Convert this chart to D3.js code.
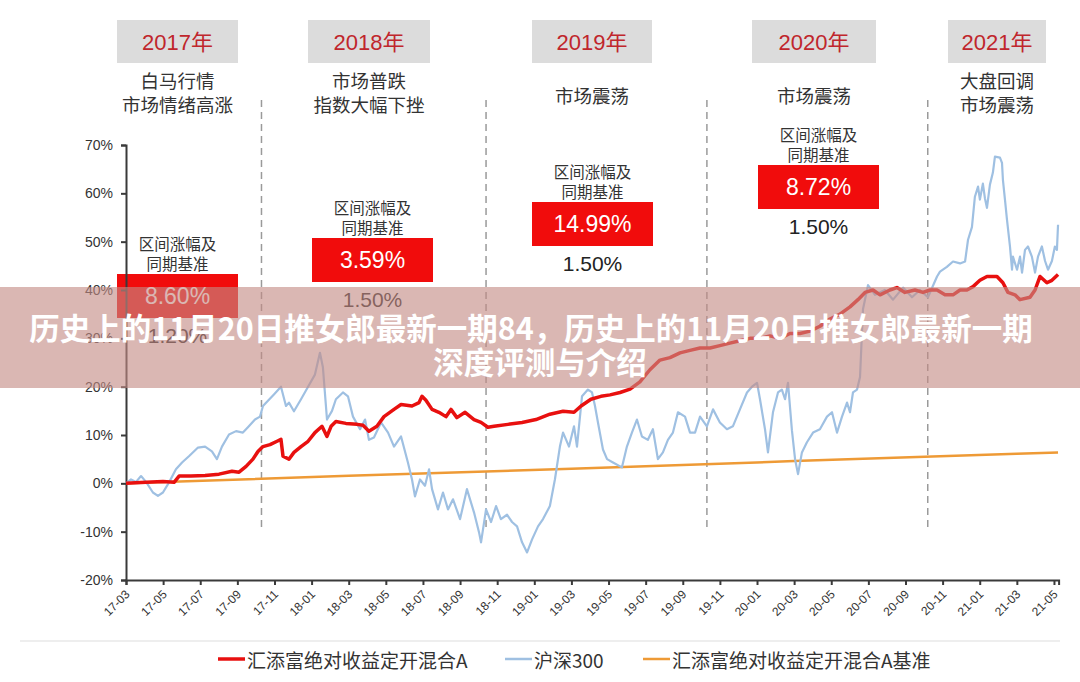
<!DOCTYPE html>
<html><head><meta charset="utf-8">
<script src="https://cdn.jsdelivr.net/npm/d3@7"></script>
<style>
html,body{margin:0;padding:0;background:#fff;}
svg{display:block;}
text{font-family:"Liberation Sans","Noto Sans CJK SC",sans-serif;}
.cjk{font-family:"Noto Sans CJK SC","Liberation Sans",sans-serif;}
</style></head>
<body>
<svg id="chart" width="1080" height="682"></svg>
<script>
// ---------------- data ----------------
const tickLabels = ["17-03","17-05","17-07","17-09","17-11","18-01","18-03","18-05","18-07","18-09","18-11","19-01","19-03","19-05","19-07","19-09","19-11","20-01","20-03","20-05","20-07","20-09","20-11","21-01","21-03","21-05"];
const yTicks = [-20,-10,0,10,20,30,40,50,60,70];
// time in months since 2017-03, value in %
const fundSeries = [[0,0],[1.08,0.2],[1.99,0.4],[2.59,0.2],[2.86,1.5],[3.5,1.5],[4.26,1.6],[5.01,1.9],[5.71,2.5],[6.09,2.3],[6.47,3.5],[6.84,5.0],[7.11,6.6],[7.38,7.6],[7.76,8.0],[8.14,8.7],[8.35,9.1],[8.46,5.6],[8.78,5.0],[9.05,6.4],[9.43,7.6],[9.81,8.7],[10.18,10.5],[10.56,11.8],[10.83,9.7],[11.05,11.8],[11.31,12.8],[11.85,12.4],[12.45,12.2],[12.77,12.0],[13.09,10.8],[13.52,11.8],[13.9,13.8],[14.44,15.3],[14.82,16.3],[15.41,16.0],[15.79,16.7],[15.95,18.0],[16.16,17.2],[16.49,15.3],[16.86,14.7],[17.24,13.8],[17.51,15.3],[17.83,13.6],[18.27,14.7],[18.75,13.2],[19.13,12.6],[19.5,11.6],[19.83,11.8],[20.58,12.2],[21.34,12.6],[22.09,13.2],[22.84,14.3],[23.55,14.9],[24.14,14.7],[24.52,16.0],[25.05,17.4],[25.59,18.0],[26.08,18.3],[26.62,18.8],[27.16,19.5],[27.69,21.0],[28.23,23.5],[28.77,25.5],[29.31,26.0],[29.85,27.0],[30.39,27.5],[30.93,28.0],[31.47,28.0],[32.0,28.5],[32.54,29.0],[33.08,29.5],[33.62,30.0],[34.16,30.0],[34.7,30.5],[35.24,30.0],[35.78,31.0],[36.31,31.0],[36.85,31.5],[37.39,32.5],[37.93,34.0],[38.47,35.0],[39.01,36.5],[39.44,38.0],[39.82,39.5],[40.25,40.0],[40.63,39.0],[41.16,40.0],[41.54,40.5],[41.97,39.5],[42.51,40.0],[42.94,39.5],[43.32,40.0],[43.7,40.0],[44.13,39.0],[44.56,39.0],[44.94,40.0],[45.31,40.0],[45.64,40.7],[46.01,42.0],[46.39,42.8],[46.93,42.8],[47.25,41.5],[47.52,39.5],[47.9,39.0],[48.17,38.0],[48.71,38.5],[48.98,40.0],[49.25,42.8],[49.62,41.5],[49.89,42.0],[50.22,43.2]];
const hs300Series = [[0,0],[0.27,0.8],[0.54,0.3],[0.81,1.5],[1.08,0.3],[1.45,-1.9],[1.72,-2.6],[1.99,-1.9],[2.32,0.2],[2.69,2.9],[3.02,4.3],[3.39,5.6],[3.88,7.4],[4.26,7.6],[4.63,6.6],[4.9,5.0],[5.17,7.6],[5.55,10.1],[5.93,10.8],[6.3,10.5],[6.57,11.6],[6.95,13.2],[7.22,13.8],[7.38,16.0],[7.97,18.4],[8.35,20.0],[8.62,16.0],[8.78,16.7],[9.05,14.9],[9.43,17.4],[9.81,20.0],[10.18,22.5],[10.45,27.0],[10.61,24.0],[10.83,13.2],[11.1,15.0],[11.31,17.4],[11.69,18.8],[11.96,18.0],[12.23,13.8],[12.61,11.2],[12.88,13.2],[13.09,9.0],[13.36,9.5],[13.74,12.6],[14.12,10.5],[14.44,7.6],[14.82,9.7],[15.19,4.3],[15.41,0.8],[15.57,-2.7],[15.84,0.8],[16.11,-0.5],[16.33,2.9],[16.49,-1.2],[16.81,-5.4],[17.08,-1.9],[17.35,-5.4],[17.62,-3.3],[18.0,-7.4],[18.37,-1.2],[18.75,-6.0],[19.02,-10.1],[19.13,-12.2],[19.4,-5.4],[19.67,-8.0],[19.94,-4.7],[20.2,-7.4],[20.53,-6.5],[20.8,-8.0],[21.07,-8.9],[21.34,-12.2],[21.61,-14.3],[21.88,-11.6],[22.2,-8.9],[22.47,-7.4],[22.84,-4.7],[23.11,0.8],[23.38,7.6],[23.55,10.5],[23.87,7.6],[24.14,11.8],[24.3,7.6],[24.57,18.0],[24.89,19.4],[25.11,18.8],[25.27,16.0],[25.43,12.6],[25.7,7.0],[25.92,5.0],[26.24,4.3],[26.72,3.3],[26.99,7.6],[27.26,10.5],[27.53,13.2],[27.8,9.7],[28.12,9.0],[28.39,11.2],[28.66,5.0],[28.93,6.4],[29.2,9.0],[29.47,10.5],[29.74,14.7],[30.12,13.8],[30.39,10.5],[30.66,10.5],[30.93,13.8],[31.3,11.8],[31.63,15.3],[32.0,12.6],[32.38,11.2],[32.7,11.8],[33.08,15.3],[33.46,18.8],[33.73,20.0],[34.0,20.8],[34.16,17.4],[34.43,11.2],[34.59,6.4],[34.86,14.7],[35.13,18.8],[35.34,19.4],[35.51,17.4],[35.67,20.8],[35.88,11.0],[36.05,5.0],[36.21,1.9],[36.42,6.4],[36.69,8.5],[37.02,10.5],[37.39,11.2],[37.77,13.8],[38.04,14.7],[38.31,10.5],[38.58,13.8],[38.85,16.7],[39.01,14.7],[39.17,18.8],[39.39,19.4],[39.55,22.0],[39.71,36.0],[39.98,41.0],[40.36,39.0],[40.89,40.0],[41.33,38.0],[41.87,40.5],[42.35,38.5],[42.78,40.0],[43.21,38.5],[43.7,42.8],[43.86,43.8],[44.23,44.8],[44.56,45.9],[44.94,45.5],[45.21,45.9],[45.37,50.4],[45.58,53.0],[45.74,59.3],[45.91,61.4],[46.01,58.7],[46.17,62.0],[46.28,59.0],[46.39,57.0],[46.55,61.8],[46.71,64.3],[46.82,67.6],[47.09,67.4],[47.2,66.3],[47.25,62.8],[47.36,58.7],[47.47,54.5],[47.63,49.0],[47.74,44.2],[47.79,46.9],[48.01,44.2],[48.17,46.9],[48.28,43.6],[48.44,48.3],[48.6,49.0],[48.81,46.9],[48.98,43.6],[49.14,46.9],[49.35,49.0],[49.52,46.0],[49.68,44.2],[49.89,46.0],[50.05,49.0],[50.16,48.3],[50.22,53.5]];
const benchSeries = [[0,0],[12,1.55],[24,3.0],[36,4.6],[48,6.1],[50.22,6.4]];
const dividers = [7.3, 19.4, 31.3, 43.2];
const years = ["2017年","2018年","2019年","2020年","2021年"];
const phases = [["白马行情","市场情绪高涨"],["市场普跌","指数大幅下挫"],["市场震荡"],["市场震荡"],["大盘回调","市场震荡"]];
const gains = ["8.60%","3.59%","14.99%","8.72%"];
const baseGains = ["1.20%","1.50%","1.50%","1.50%"];
const legendNames = ["汇添富绝对收益定开混合A","沪深300","汇添富绝对收益定开混合A基准"];
const seriesColors = ["#e8100f","#9fc0e2","#ee9a36"];
const bannerLines = ["历史上的11月20日推女郎最新一期84，历史上的11月20日推女郎最新一期","深度评测与介绍"];

// ---------------- layout ----------------
const svg = d3.select("#chart");
const x = d3.scaleLinear().domain([0, 50.25]).range([126, 1058.6]);
const y = d3.scaleLinear().domain([-20, 70]).range([580, 145]);

svg.append("rect").attr("width",1080).attr("height",682).attr("fill","#fff");

// dividers
svg.append("g").selectAll("line").data(dividers).join("line")
  .attr("x1", d=>x(d)).attr("x2", d=>x(d)).attr("y1",100).attr("y2",532)
  .attr("stroke","#9a9a9a").attr("stroke-width",1.5).attr("stroke-dasharray","7,5");

// header boxes
const headBoxes = [[117,238],[308,430],[532,652],[752,876],[948,1046]];
const hg = svg.append("g");
hg.selectAll("rect").data(headBoxes).join("rect")
  .attr("x", d=>d[0]).attr("y",20).attr("width", d=>d[1]-d[0]).attr("height",43).attr("fill","#dcdcdc");
hg.selectAll("text.yr").data(years).join("text").attr("class","yr")
  .attr("x", (d,i)=>(headBoxes[i][0]+headBoxes[i][1])/2).attr("y",42)
  .attr("text-anchor","middle").attr("dominant-baseline","central")
  .attr("font-size",22).attr("fill","#c0262c").text(d=>d);
phases.forEach((p,i)=>{
  const cx = (headBoxes[i][0]+headBoxes[i][1])/2;
  const ys = p.length===2 ? [80,104] : [95];
  p.forEach((t,j)=>{
    hg.append("text").attr("class","cjk").attr("x",cx).attr("y",ys[j])
      .attr("text-anchor","middle").attr("dominant-baseline","central")
      .attr("font-size",18.5).attr("fill","#333").text(t);
  });
});

// annotation boxes
const annBoxes = [[117,238,274],[312,433,238],[532,653,202],[758,879,165]];
const ag = svg.append("g");
annBoxes.forEach((b,i)=>{
  const cx=(b[0]+b[1])/2, top=b[2];
  ag.append("text").attr("class","cjk").attr("x",cx).attr("y",top-31).attr("text-anchor","middle")
    .attr("dominant-baseline","central").attr("font-size",15.5).attr("fill","#333").text("区间涨幅及");
  ag.append("text").attr("class","cjk").attr("x",cx).attr("y",top-11).attr("text-anchor","middle")
    .attr("dominant-baseline","central").attr("font-size",15.5).attr("fill","#333").text("同期基准");
  ag.append("rect").attr("x",b[0]).attr("y",top).attr("width",b[1]-b[0]).attr("height",44).attr("fill","#f10c0c");
  ag.append("text").attr("x",cx).attr("y",top+22).attr("text-anchor","middle")
    .attr("dominant-baseline","central").attr("font-size",23).attr("fill","#fff").text(gains[i]);
  ag.append("text").attr("x",cx).attr("y",top+61).attr("text-anchor","middle")
    .attr("dominant-baseline","central").attr("font-size",21).attr("fill","#222").text(baseGains[i]);
});

// axes
const yAxis = svg.append("g").attr("transform","translate(126,0)")
  .call(d3.axisLeft(y).tickValues(yTicks).tickFormat(d=>d+"%").tickSize(5).tickPadding(8));
const xAxis = svg.append("g").attr("transform","translate(0,580)")
  .call(d3.axisBottom(x).tickValues(d3.range(tickLabels.length).map(i=>i*2)).tickFormat((d,i)=>tickLabels[i]).tickSize(5));
[yAxis,xAxis].forEach(g=>{
  g.select(".domain").attr("stroke","#3a3a3a").attr("stroke-width",2);
  g.selectAll(".tick line").attr("stroke","#3a3a3a").attr("stroke-width",2);
  g.selectAll(".tick text").attr("fill","#333").style("font-family",'"Liberation Sans",sans-serif');
});
yAxis.selectAll(".tick text").attr("font-size",14);
xAxis.selectAll(".tick text").attr("font-size",12).attr("text-anchor","end")
  .attr("dy",0).attr("y",0)
  .attr("transform","translate(4,15) rotate(-45)");

// lines
const line = d3.line().x(d=>x(d[0])).y(d=>y(d[1]));
svg.append("path").datum(benchSeries).attr("d",line).attr("fill","none")
  .attr("stroke",seriesColors[2]).attr("stroke-width",2.5);
svg.append("path").datum(hs300Series).attr("d",line).attr("fill","none")
  .attr("stroke",seriesColors[1]).attr("stroke-width",2.2).attr("stroke-linejoin","round");
svg.append("path").datum(fundSeries).attr("d",line).attr("fill","none")
  .attr("stroke",seriesColors[0]).attr("stroke-width",3.5).attr("stroke-linejoin","round");

// legend
svg.append("line").attr("x1",20).attr("x2",1060).attr("y1",641).attr("y2",641).attr("stroke","#ddd").attr("stroke-width",1);
const legX = [218, 505, 643];
const lg = svg.append("g");
legendNames.forEach((n,i)=>{
  lg.append("line").attr("x1",legX[i]).attr("x2",legX[i]+27).attr("y1",659).attr("y2",659)
    .attr("stroke",seriesColors[i]).attr("stroke-width",i===0?3.5:2.5);
  lg.append("text").attr("class","cjk").attr("x",legX[i]+29).attr("y",659).attr("dominant-baseline","central")
    .attr("font-size",19).attr("fill","#333").text(n);
});

// banner overlay
svg.append("rect").attr("x",0).attr("y",287).attr("width",1080).attr("height",101)
  .attr("fill","rgb(195,139,133)").attr("fill-opacity",0.62);
bannerLines.forEach((t,i)=>{
  svg.append("text").attr("class","cjk").attr("x",i===0?531:540).attr("y",i===0?327:361)
    .attr("text-anchor","middle").attr("dominant-baseline","central")
    .attr("font-size",30.5).attr("font-weight","bold").attr("fill","#fff").text(t);
});
</script>
</body></html>
